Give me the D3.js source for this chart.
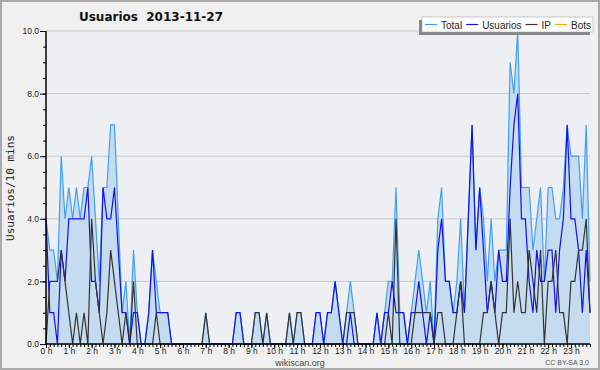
<!DOCTYPE html>
<html>
<head>
<meta charset="utf-8">
<script src="https://cdn.jsdelivr.net/npm/d3@7"></script>
<style>
  body { margin: 0; background: #f0f0f0; }
  svg { display: block; }
  .tick text { font-family: "Liberation Sans", sans-serif; fill: #222; }
</style>
</head>
<body>
<div id="chart"></div>
<script>
// one value every 10 minutes, 144 per day
const total = [
  4,3,3,2,6,4,5,4,5,4,5,5,
  6,4,2,5,5,7,7,4,1,2,0,3,
  1,0,0,1,3,2,1,1,1,0,0,0,
  0,0,0,0,0,0,1,0,0,0,0,0,
  0,0,1,1,0,0,0,1,1,0,1,0,
  0,0,0,0,1,0,1,1,0,0,0,1,
  1,0,1,1,2,1,0,1,2,1,0,0,
  0,0,0,1,0,1,2,2,5,1,1,0,
  1,2,3,2,1,2,0,4,5,2,2,1,
  2,4,1,4,7,3,5,4,2,4,2,3,
  3,3,9,8,10,5,5,5,3,4,5,2,
  5,5,4,4,5,7,6,6,6,4,7,2
]
const usuarios = [
  4,1,1,0,3,2,4,4,4,4,4,5,
  2,2,1,5,4,4,5,3,1,1,0,1,
  1,0,0,1,3,1,1,1,1,0,0,0,
  0,0,0,0,0,0,0,0,0,0,0,0,
  0,0,1,1,0,0,0,0,0,0,0,0,
  0,0,0,0,0,0,0,0,0,0,0,1,
  1,0,1,1,2,1,0,0,1,0,0,0,
  0,0,0,1,0,1,1,2,1,1,1,0,
  1,1,2,1,0,1,0,3,4,2,2,1,
  1,2,1,4,7,3,5,3,1,2,1,3,
  2,2,5,7,8,4,4,2,1,3,2,2,
  3,3,1,3,4,7,4,4,3,1,3,1
]
const ip = [
  0,2,2,2,3,2,1,0,1,0,1,0,
  4,2,1,0,1,3,2,1,0,1,0,2,
  0,0,0,0,0,1,0,0,0,0,0,0,
  0,0,0,0,0,0,1,0,0,0,0,0,
  0,0,0,0,0,0,0,1,1,0,1,0,
  0,0,0,0,1,0,1,1,0,0,0,0,
  0,0,0,0,0,0,0,1,1,1,0,0,
  0,0,0,0,0,0,1,0,4,0,0,0,
  0,1,1,1,1,1,0,1,1,0,0,0,
  1,2,0,0,0,0,0,1,1,2,1,0,
  1,1,4,1,2,1,1,3,2,1,3,0,
  2,2,3,1,1,0,2,2,3,3,4,1
]
const bots = new Array(144).fill(0)
const hours = d3.range(24)
const yTicks = [0, 2, 4, 6, 8, 10]

const width = 600
const height = 370
const plotLeft = 46, plotRight = 590, plotTop = 31, plotBottom = 344

const svg = d3.select('#chart')
  .append('svg')
  .attr('width', width)
  .attr('height', height)

// frame
svg.append('rect')
  .attr('x', 1).attr('y', 1)
  .attr('width', width - 2).attr('height', height - 2)
  .attr('fill', '#f0f0f0')
  .attr('stroke', '#aaa')
  .attr('stroke-width', 2)

svg.append('rect')
  .attr('x', plotLeft).attr('y', plotTop)
  .attr('width', plotRight - plotLeft).attr('height', plotBottom - plotTop)
  .attr('fill', '#edeff2')

const x = d3.scaleLinear().domain([0, total.length - 1]).range([plotLeft, plotRight])
const y = d3.scaleLinear().domain([0, 10]).range([plotBottom, plotTop])

// grid
svg.append('g')
  .selectAll('line')
  .data(yTicks.filter(d => d > 0))
  .enter()
  .append('line')
  .attr('x1', plotLeft).attr('x2', plotRight)
  .attr('y1', d => y(d)).attr('y2', d => y(d))
  .attr('stroke', '#c8c8c8')
  .attr('stroke-width', 1)

// area + lines
svg.append('path')
  .datum(total)
  .attr('fill', '#c5dcf0')
  .attr('d', d3.area().x((d, i) => x(i)).y0(plotBottom).y1(d => y(d)))

const line = d3.line().x((d, i) => x(i)).y(d => y(d))

const series = [
  { values: total, color: '#3fa0f5' },
  { values: usuarios, color: '#1010f0' },
  { values: ip, color: '#333333' }
]
series.forEach(s => {
  svg.append('path')
    .datum(s.values)
    .attr('fill', 'none')
    .attr('stroke', s.color)
    .attr('stroke-width', 1.2)
    .attr('d', line)
})

// y axis
const yMinor = d3.axisLeft(y).tickValues(d3.range(0, 10.01, 0.5)).tickSize(3).tickFormat('')
svg.append('g')
  .attr('transform', `translate(${plotLeft}, 0)`)
  .call(yMinor)
  .call(g => g.select('.domain').remove())

const yAxis = d3.axisLeft(y).tickValues(yTicks).tickSize(6).tickPadding(1).tickFormat(d3.format('.1f'))
svg.append('g')
  .attr('transform', `translate(${plotLeft}, 0)`)
  .call(yAxis)
  .call(g => g.select('.domain').attr('d', `M0,${plotTop}V${plotBottom}`).attr('stroke-width', 1.5))
  .call(g => g.selectAll('text').attr('font-size', 8.5))

// x axis
const xMinor = d3.axisBottom(x).tickValues(d3.range(total.length)).tickSize(3).tickFormat('')
svg.append('g')
  .attr('transform', `translate(0, ${plotBottom})`)
  .call(xMinor)
  .call(g => g.select('.domain').attr('d', `M${plotLeft},0H${plotRight}`).attr('stroke-width', 1.5))

const xAxis = d3.axisBottom(x).tickValues(hours.map(h => h * 6)).tickSize(4).tickPadding(0)
  .tickFormat(d => (d / 6) + ' h')
svg.append('g')
  .attr('transform', `translate(0, ${plotBottom})`)
  .call(xAxis)
  .call(g => g.select('.domain').remove())
  .call(g => g.selectAll('text').attr('font-size', 8.5))

// titles
svg.append('text')
  .attr('x', 151).attr('y', 21)
  .attr('text-anchor', 'middle')
  .attr('font-family', 'DejaVu Sans, sans-serif')
  .attr('font-weight', 'bold')
  .attr('font-size', 12)
  .attr('fill', '#111')
  .style('white-space', 'pre')
  .text('Usuarios  2013-11-27')

svg.append('text')
  .attr('transform', 'translate(14, 188) rotate(-90)')
  .attr('text-anchor', 'middle')
  .attr('font-family', 'DejaVu Sans Mono, monospace')
  .attr('font-size', 11)
  .attr('fill', '#222')
  .text('Usuarios/10 mins')

svg.append('text')
  .attr('x', 300).attr('y', 366)
  .attr('text-anchor', 'middle')
  .attr('font-family', 'Liberation Sans, sans-serif')
  .attr('font-size', 9)
  .attr('fill', '#444')
  .text('wikiscan.org')

svg.append('text')
  .attr('x', 589).attr('y', 365)
  .attr('text-anchor', 'end')
  .attr('font-family', 'Liberation Sans, sans-serif')
  .attr('font-size', 7)
  .attr('fill', '#555')
  .text('CC BY-SA 3.0')

// legend
const legendItems = [
  { name: 'Total', color: '#3fa0f5' },
  { name: 'Usuarios', color: '#1010f0' },
  { name: 'IP', color: '#333333' },
  { name: 'Bots', color: '#ffa500' }
]
const legend = svg.append('g')
legend.append('rect')
  .attr('x', 419).attr('y', 20).attr('width', 171).attr('height', 15)
  .attr('fill', '#888')
legend.append('rect')
  .attr('x', 422).attr('y', 17).attr('width', 171).attr('height', 15)
  .attr('fill', '#fff')
  .attr('stroke', '#999')
  .attr('stroke-width', 0.5)

let lx = 425
legendItems.forEach(item => {
  legend.append('line')
    .attr('x1', lx).attr('x2', lx + 12)
    .attr('y1', 24.5).attr('y2', 24.5)
    .attr('stroke', item.color)
    .attr('stroke-width', 1.2)
  const t = legend.append('text')
    .attr('x', lx + 16).attr('y', 28.5)
    .attr('font-family', 'Liberation Sans, sans-serif')
    .attr('font-size', 10)
    .attr('fill', '#222')
    .text(item.name)
  lx += 16 + t.node().getComputedTextLength() + 4
})
</script>
</body>
</html>
